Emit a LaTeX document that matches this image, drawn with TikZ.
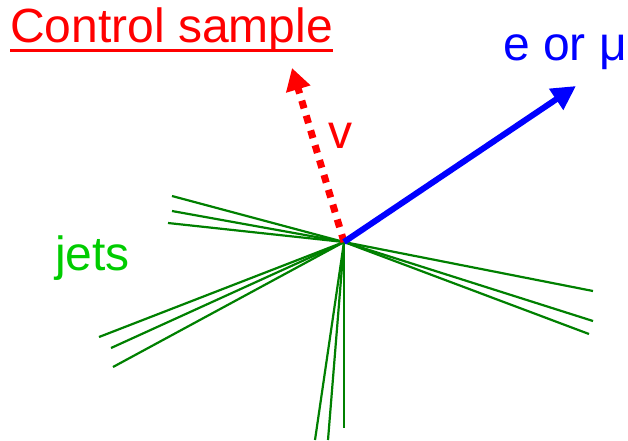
\documentclass[tikz,border=0pt]{standalone}
\usepackage{fontspec}
\setmainfont{Liberation Sans}
\usetikzlibrary{arrows.meta}
\definecolor{jetgreen}{RGB}{0,128,0}
\definecolor{labelgreen}{RGB}{0,204,0}
\begin{document}
\begin{tikzpicture}[x=1pt,y=-1pt,
  jet/.style={draw=jetgreen,line width=2.2pt},
  big/.style={font=\fontsize{48}{54}\selectfont,inner sep=0pt}]
\useasboundingbox (0,0) rectangle (628,440);
\coordinate (c) at (344,242);
% jets
\foreach \x/\y [count=\i] in {172/196,172/211,168/223,99/337,111/348,113/367,593/291,593/321,589/334,315/440,328/440,344/428}
  \coordinate (j\i) at (\x,\y);
\foreach \i in {1,...,12} \draw[jet] (c) -- (j\i);
% neutrino
\coordinate (nu) at (292,68);
\draw[red,line width=7pt,dash pattern=on 8pt off 7.5pt,-{Triangle[length=22pt,width=24pt]}] (c) -- (nu);
% lepton
\coordinate (lep) at (576,86);
\draw[blue,line width=6pt,-{Triangle[length=24pt,width=24pt]}] (c) -- (lep);
% labels
\node[big,red,anchor=base west] (title) at (10,42) {Control sample};
\draw[red,line width=3pt] (10,50) -- (title.east |- 0,50);
\node[big,blue,anchor=base east] (lab) at (627,60) {e or μ};
\node[big,red] (v) at (340,136) {v};
\node[big,labelgreen,anchor=base west] (jets) at (55,270) {jets};
\end{tikzpicture}
\end{document}
